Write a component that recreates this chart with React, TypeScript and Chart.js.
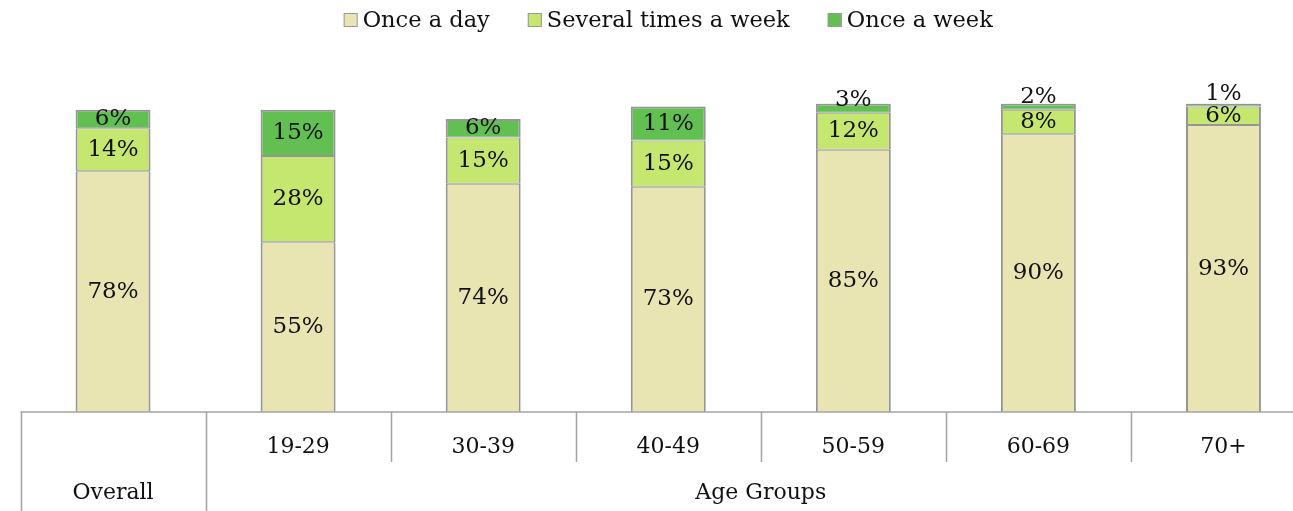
import { useEffect, useRef } from "react";
import { Chart, registerables } from "chart.js";

Chart.register(...registerables);

const categories = ["Overall", "19-29", "30-39", "40-49", "50-59", "60-69", "70+"];
const groupLabels = ["Overall", "Age Groups"];
const seriesNames = ["Once a day", "Several times a week", "Once a week"];
const onceADay = [78, 55, 74, 73, 85, 90, 93];
const severalTimesAWeek = [14, 28, 15, 15, 12, 8, 6];
const onceAWeek = [6, 15, 6, 11, 3, 2, 1];

const FONT = "'DejaVu Serif', 'Liberation Serif', serif";
const GRID = "#a3a3a3";
const BORDER = "#959595";
const COLORS = ["#E9E5B3", "#C6E76F", "#62C052"];

const legendPlugin = {
  id: "customLegend",
  afterDraw(chart: any) {
    const ctx = chart.ctx;
    const area = chart.chartArea;
    ctx.save();
    ctx.font = `22.5px ${FONT}`;
    ctx.textBaseline = "middle";
    const box = 14;
    const gapBox = 5;
    const gapItem = 38;
    const widths = chart.data.datasets.map((d: any) => ctx.measureText(d.label).width);
    const total = widths.reduce((a: number, w: number) => a + box + gapBox + w, 0) + gapItem * (widths.length - 1);
    let x = (area.left + area.right) / 2 - total / 2;
    const cy = 20;
    chart.data.datasets.forEach((d: any, i: number) => {
      ctx.fillStyle = d.backgroundColor;
      ctx.fillRect(x, cy - box / 2, box, box);
      ctx.strokeStyle = "#999";
      ctx.lineWidth = 1;
      ctx.strokeRect(x + 0.5, cy - box / 2 + 0.5, box - 1, box - 1);
      ctx.fillStyle = "#111";
      ctx.textAlign = "left";
      ctx.fillText(d.label, x + box + gapBox, cy + 1);
      x += box + gapBox + widths[i] + gapItem;
    });
    ctx.restore();
  },
};

const axisPlugin = {
  id: "multiLevelAxis",
  afterDraw(chart: any) {
    const ctx = chart.ctx;
    const xs = chart.scales.x;
    const area = chart.chartArea;
    const n = categories.length;
    const step = xs.getPixelForValue(1) - xs.getPixelForValue(0);
    const boundary = (k: number) => xs.getPixelForValue(0) - step / 2 + k * step;
    ctx.save();
    ctx.strokeStyle = GRID;
    ctx.lineWidth = 1.5;
    ctx.beginPath();
    ctx.moveTo(boundary(0), area.bottom);
    ctx.lineTo(boundary(n), area.bottom);
    ctx.stroke();
    for (let k = 0; k <= n; k++) {
      const px = Math.round(boundary(k)) + 0.5;
      const end = k <= 1 ? chart.height : area.bottom + 50;
      ctx.beginPath();
      ctx.moveTo(px, area.bottom);
      ctx.lineTo(px, end);
      ctx.stroke();
    }
    ctx.fillStyle = "#111";
    ctx.textAlign = "center";
    ctx.textBaseline = "middle";
    ctx.font = `22px ${FONT}`;
    for (let k = 1; k < n; k++) {
      ctx.fillText(categories[k], xs.getPixelForValue(k), area.bottom + 35);
    }
    ctx.fillText(groupLabels[0], xs.getPixelForValue(0), area.bottom + 81);
    const mid = (xs.getPixelForValue(1) + xs.getPixelForValue(n - 1)) / 2;
    ctx.fillText(groupLabels[1], mid, area.bottom + 81);
    ctx.restore();
  },
};

const valueLabelPlugin = {
  id: "valueLabels",
  afterDatasetsDraw(chart: any) {
    const ctx = chart.ctx;
    ctx.save();
    ctx.font = `23px ${FONT}`;
    ctx.fillStyle = "#111";
    ctx.textAlign = "center";
    ctx.textBaseline = "middle";
    chart.data.datasets.forEach((d: any, di: number) => {
      const meta = chart.getDatasetMeta(di);
      meta.data.forEach((el: any, i: number) => {
        const top = Math.min(el.y, el.base);
        const h = Math.abs(el.base - el.y);
        let cy = top + h / 2;
        if (h < 12) cy = top - (12 - h) * 1.1;
        ctx.fillText(`${d.data[i]}%`, el.x, cy);
      });
    });
    ctx.restore();
  },
};

export default function App() {
  const ref = useRef<HTMLCanvasElement>(null);
  useEffect(() => {
    if (!ref.current) return;
    const common = {
      borderColor: BORDER,
      borderSkipped: false,
      barPercentage: 0.405,
      categoryPercentage: 1,
    };
    const chart = new Chart(ref.current, {
      type: "bar",
      data: {
        labels: categories,
        datasets: [
          {
            ...common,
            label: seriesNames[0],
            data: onceADay,
            backgroundColor: COLORS[0],
            borderWidth: { left: 2, right: 2, top: 1, bottom: 0 },
          },
          {
            ...common,
            label: seriesNames[1],
            data: severalTimesAWeek,
            backgroundColor: COLORS[1],
            borderWidth: { left: 2, right: 2, top: 1, bottom: 1 },
          },
          {
            ...common,
            label: seriesNames[2],
            data: onceAWeek,
            backgroundColor: COLORS[2],
            borderWidth: { left: 2, right: 2, top: 2, bottom: 1 },
          },
        ],
      },
      options: {
        responsive: false,
        animation: false,
        layout: { padding: { left: 20.5, right: 0, top: 103.5, bottom: 99 } },
        plugins: { legend: { display: false }, tooltip: { enabled: false } },
        scales: {
          x: { stacked: true, display: false },
          y: { stacked: true, display: false, min: 0, max: 100 },
        },
      } as any,
      plugins: [legendPlugin, axisPlugin, valueLabelPlugin],
    });
    return () => chart.destroy();
  }, []);
  return (
    <div
      style={{
        position: "fixed",
        left: 0,
        top: 0,
        width: 1293,
        height: 511,
        overflow: "hidden",
        background: "#fff",
      }}
    >
      <canvas ref={ref} width={1316} height={511} style={{ display: "block", width: 1316, height: 511 }} />
    </div>
  );
}
